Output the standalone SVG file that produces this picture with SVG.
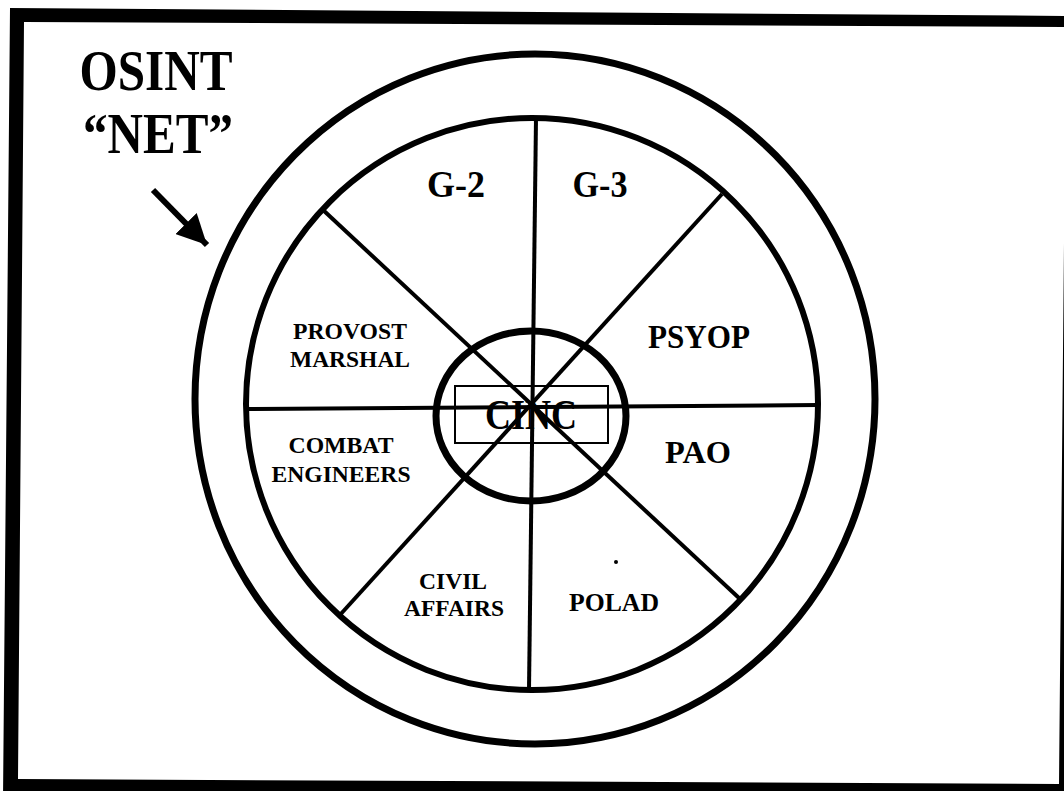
<svg xmlns="http://www.w3.org/2000/svg" width="1064" height="791" viewBox="0 0 1064 791">
<defs>
<style>
.lbl{font-family:"Liberation Serif","Times New Roman",serif;font-weight:bold;fill:#000;text-anchor:middle}
.ring{fill:none;stroke:#000}
.spoke{stroke:#000;stroke-width:4;stroke-linecap:butt}
</style>
<marker id="head" markerUnits="userSpaceOnUse" markerWidth="32" markerHeight="30" refX="30" refY="15" orient="auto">
<path d="M0,0 L30,15 L0,30 Z" fill="#000"/>
</marker>
</defs>
<rect x="0" y="0" width="1064" height="791" fill="#fff"/>
<path id="frame" fill="#000" fill-rule="evenodd" d="M10,8 L1075,16 L1068,800 L3,800 Z M24,22 L1066,27 L1059,784 L18,779 Z"/>
<g id="title">
<text class="lbl" x="156" y="90" font-size="58" textLength="153" lengthAdjust="spacingAndGlyphs">OSINT</text>
<text class="lbl" x="158" y="153" font-size="58" textLength="150" lengthAdjust="spacingAndGlyphs">“NET”</text>
</g>
<g id="net">
<ellipse class="ring" cx="535" cy="399" rx="340" ry="345" stroke-width="7"/>
</g>
<g id="wheel">
<circle class="ring" cx="532" cy="404" r="286" stroke-width="6"/>
<line class="spoke" x1="536" y1="118" x2="529" y2="690"/>
<line class="spoke" x1="248" y1="409" x2="818" y2="405" stroke-width="5"/>
<line class="spoke" x1="322" y1="209" x2="739" y2="598"/>
<line class="spoke" x1="722" y1="194" x2="339" y2="616"/>
</g>
<g id="cinc">
<ellipse class="ring" cx="531" cy="416" rx="95" ry="85" stroke-width="7"/>
<rect x="455" y="386" width="153" height="57" fill="none" stroke="#000" stroke-width="2"/>
<text class="lbl" x="531" y="429" font-size="42" textLength="92" lengthAdjust="spacingAndGlyphs">CINC</text>
</g>
<g id="g2"><text class="lbl" x="456" y="197" font-size="37" textLength="58" lengthAdjust="spacingAndGlyphs">G-2</text></g>
<g id="g3"><text class="lbl" x="600" y="197" font-size="37" textLength="55" lengthAdjust="spacingAndGlyphs">G-3</text></g>
<g id="psyop"><text class="lbl" x="699" y="348" font-size="33" textLength="102" lengthAdjust="spacingAndGlyphs">PSYOP</text></g>
<g id="pao"><text class="lbl" x="698" y="463" font-size="32" textLength="66" lengthAdjust="spacingAndGlyphs">PAO</text></g>
<g id="polad"><text class="lbl" x="614" y="611" font-size="25" textLength="90" lengthAdjust="spacingAndGlyphs">POLAD</text></g>
<g id="civil-affairs">
<text class="lbl" x="453" y="589" font-size="24" textLength="68" lengthAdjust="spacingAndGlyphs">CIVIL</text>
<text class="lbl" x="454" y="616" font-size="24" textLength="100" lengthAdjust="spacingAndGlyphs">AFFAIRS</text>
</g>
<g id="combat-engineers">
<text class="lbl" x="341" y="453" font-size="24" textLength="105" lengthAdjust="spacingAndGlyphs">COMBAT</text>
<text class="lbl" x="341" y="482" font-size="24" textLength="139" lengthAdjust="spacingAndGlyphs">ENGINEERS</text>
</g>
<g id="provost-marshal">
<text class="lbl" x="350" y="339" font-size="24" textLength="114" lengthAdjust="spacingAndGlyphs">PROVOST</text>
<text class="lbl" x="350" y="367" font-size="24" textLength="120" lengthAdjust="spacingAndGlyphs">MARSHAL</text>
</g>
<circle cx="616" cy="562" r="2" fill="#000"/>
<g id="connectors">
<line x1="153" y1="190" x2="207" y2="245" stroke="#000" stroke-width="6" marker-end="url(#head)"/>
</g>
</svg>
